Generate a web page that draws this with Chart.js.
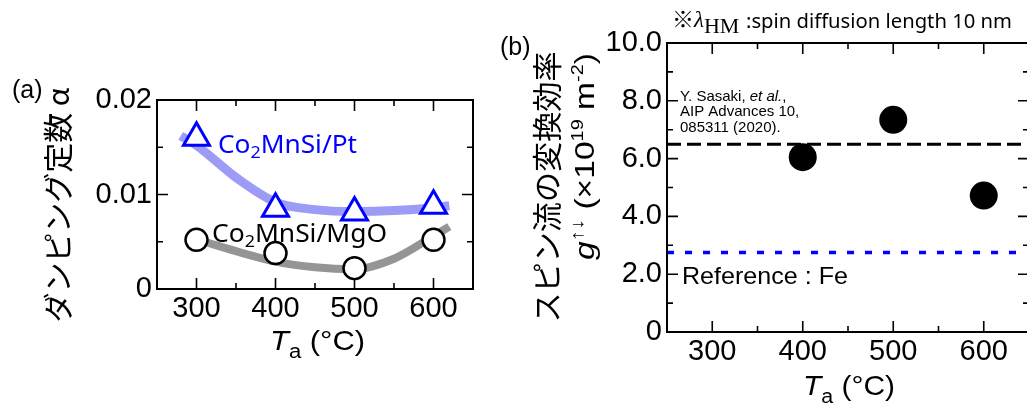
<!DOCTYPE html>
<html>
<head>
<meta charset="utf-8">
<script src="https://cdn.jsdelivr.net/npm/chart.js@4.4.0/dist/chart.umd.min.js"></script>
<style>
  html, body { margin: 0; padding: 0; background: #fff; }
  #wrap { position: relative; width: 1027px; height: 405px; overflow: hidden; }
  canvas { position: absolute; top: 0; }
  #chartA { left: 0; }
  #chartB { left: 495px; }
</style>
</head>
<body>
<div id="wrap">
  <canvas id="chartA" width="495" height="405"></canvas>
  <!-- wider than the window on purpose: the right frame sits at the page edge -->
  <canvas id="chartB" width="548" height="405"></canvas>
</div>
<script>
// ── data: panel (a) damping constant ───────────────────────────────
const tempA      = [300, 400, 500, 600];
const alphaPt    = [0.0160, 0.0085, 0.0081, 0.0088];
const alphaMgO   = [0.0052, 0.0038, 0.0022, 0.0052];
// guide curves
const ptCurveT   = [280, 300, 350, 400, 450, 500, 550, 600, 620];
const ptCurveA   = [0.0162, 0.0152, 0.0118, 0.0092, 0.0084, 0.0082, 0.0083, 0.0086, 0.0088];
const mgoCurveT  = [310, 350, 400, 450, 500, 550, 600, 620];
const mgoCurveA  = [0.0050, 0.0040, 0.0029, 0.0023, 0.0021, 0.0032, 0.0056, 0.0066];
const aXTicks    = [300, 400, 500, 600];
const aXMinor    = [350, 450, 550];
const aYTicks    = [0, 0.01, 0.02];
const aYMinor    = [0.005, 0.015];

// ── data: panel (b) spin mixing conductance ────────────────────────
const tempB      = [400, 500, 600];
const gMix       = [6.05, 7.34, 4.72];
const xSpan      = [250, 650];
const sasakiG    = 6.5;
const feG        = 2.75;
const bXTicks    = [300, 400, 500, 600];
const bXMinor    = [350, 450, 550];
const bYTicks    = [0, 2, 4, 6, 8, 10];
const bYMinor    = [1, 3, 5, 7, 9];

const SANS  = '"Liberation Sans", Arial, sans-serif';
const NOTO  = '"Noto Sans", sans-serif';
const CJK   = '"Noto Sans CJK JP", sans-serif';
const SERIF = '"Liberation Serif", serif';
const TICKFONT = { family: SANS, size: 29, lineHeight: 1 };

const pts = (xs, ys) => xs.map((x, i) => ({ x, y: ys[i] }));

// draw a run of differently styled text pieces, optionally squeezed to a width
function richText(ctx, runs, x, y, o = {}) {
  ctx.save();
  ctx.textBaseline = o.baseline || 'alphabetic';
  let total = 0;
  const widths = runs.map(r => { ctx.font = r.font; const w = ctx.measureText(r.text).width; total += w; return w; });
  const sx = o.width ? o.width / total : 1;
  ctx.translate(x, y);
  if (o.rotate) ctx.rotate(o.rotate);
  ctx.scale(sx, 1);
  let cx = o.align === 'center' ? -total / 2 : 0;
  runs.forEach((r, i) => {
    ctx.font = r.font;
    ctx.fillStyle = r.color || o.color || '#000';
    ctx.fillText(r.text, cx, r.dy || 0);
    cx += widths[i];
  });
  ctx.restore();
}

// frame with inward ticks on all four sides
function drawFrame(chart, t) {
  const { ctx, chartArea: a, scales: { x, y } } = chart;
  ctx.save();
  ctx.strokeStyle = '#000';
  ctx.lineWidth = 2;
  ctx.strokeRect(a.left, a.top, a.right - a.left, a.bottom - a.top);
  ctx.lineWidth = 1.6;
  ctx.beginPath();
  const xt = (v, len) => {
    const px = x.getPixelForValue(v);
    ctx.moveTo(px, a.bottom); ctx.lineTo(px, a.bottom - len);
    ctx.moveTo(px, a.top);    ctx.lineTo(px, a.top + len);
  };
  const yt = (v, len) => {
    const py = y.getPixelForValue(v);
    ctx.moveTo(a.left, py);  ctx.lineTo(a.left + len, py);
    ctx.moveTo(a.right, py); ctx.lineTo(a.right - len, py);
  };
  t.xMajor.forEach(v => xt(v, 11));
  t.xMinor.forEach(v => xt(v, 6));
  t.yMajor.forEach(v => yt(v, 11));
  t.yMinor.forEach(v => yt(v, 6));
  ctx.stroke();
  ctx.restore();
}

function axes(xTicks, yTicks, yFmt, yWidth, xHeight) {
  return {
    x: {
      type: 'linear', min: xSpan[0], max: xSpan[1],
      afterBuildTicks: s => { s.ticks = xTicks.map(v => ({ value: v })); },
      afterFit: s => { s.height = xHeight; },
      ticks: { font: TICKFONT, color: '#000', padding: 5, maxRotation: 0 },
      grid: { display: false, drawTicks: false },
      border: { display: false },
    },
    y: {
      type: 'linear', min: yTicks[0], max: yTicks[yTicks.length - 1],
      afterBuildTicks: s => { s.ticks = yTicks.map(v => ({ value: v })); },
      afterFit: s => { s.width = yWidth; },
      ticks: { font: TICKFONT, color: '#000', padding: 5, callback: yFmt },
      grid: { display: false, drawTicks: false },
      border: { display: false },
    },
  };
}

// ── (a) Damping constant vs annealing temperature ──────────────────
new Chart(document.getElementById('chartA'), {
  type: 'scatter',
  data: {
    datasets: [
      {
        label: 'Co2MnSi/Pt', data: pts(tempA, alphaPt), order: 0,
        pointStyle: 'triangle', pointRadius: 15, borderWidth: 3,
        borderColor: '#0000ff', backgroundColor: '#ffffff',
      },
      {
        label: 'Co2MnSi/MgO', data: pts(tempA, alphaMgO), order: 0,
        pointStyle: 'circle', pointRadius: 11, borderWidth: 2.5,
        borderColor: '#000000', backgroundColor: '#ffffff',
      },
      {
        label: 'Pt fit', data: pts(ptCurveT, ptCurveA), order: 1,
        showLine: true, pointRadius: 0, borderWidth: 9,
        borderColor: '#9c9cf7', cubicInterpolationMode: 'monotone',
      },
      {
        label: 'MgO fit', data: pts(mgoCurveT, mgoCurveA), order: 1,
        showLine: true, pointRadius: 0, borderWidth: 8,
        borderColor: '#959595', cubicInterpolationMode: 'monotone',
      },
    ],
  },
  options: {
    responsive: false, animation: false,
    layout: { padding: { top: 100, right: 22, left: 0, bottom: 0 } },
    plugins: { legend: { display: false }, tooltip: { enabled: false } },
    scales: axes(aXTicks, aYTicks, v => v === 0 ? '0' : v.toFixed(2), 157, 116),
  },
  plugins: [{
    id: 'panelA',
    afterDraw(chart) {
      const ctx = chart.ctx;
      drawFrame(chart, { xMajor: aXTicks, xMinor: aXMinor, yMajor: aYTicks, yMinor: aYMinor });
      richText(ctx, [{ text: '(a)', font: `25px ${SANS}` }], 12, 98);
      richText(ctx, [{ text: 'ダンピング定数 α', font: `30px ${CJK}` }], 57.5, 205,
        { rotate: -Math.PI / 2, align: 'center', baseline: 'middle', width: 235 });
      richText(ctx, [
        { text: 'Co', font: `25px ${NOTO}` },
        { text: '2', font: `17px ${NOTO}`, dy: 5 },
        { text: 'MnSi/Pt', font: `25px ${NOTO}` },
      ], 218, 153, { color: '#0000ff', width: 139 });
      richText(ctx, [
        { text: 'Co', font: `25px ${NOTO}` },
        { text: '2', font: `17px ${NOTO}`, dy: 5 },
        { text: 'MnSi/MgO', font: `25px ${NOTO}` },
      ], 212, 242, { width: 175 });
      richText(ctx, [
        { text: 'T', font: `italic 28px ${SANS}` },
        { text: 'a', font: `20px ${SANS}`, dy: 8 },
        { text: ' (°C)', font: `28px ${SANS}` },
      ], 270, 350, { width: 95 });
    },
  }],
});

// ── (b) Spin mixing conductance vs annealing temperature ───────────
new Chart(document.getElementById('chartB'), {
  type: 'scatter',
  data: {
    datasets: [
      {
        label: 'g', data: pts(tempB, gMix), order: 0,
        pointStyle: 'circle', pointRadius: 14, borderWidth: 0,
        backgroundColor: '#000000',
      },
      {
        label: 'Sasaki', data: pts(xSpan, [sasakiG, sasakiG]), order: 1,
        showLine: true, pointRadius: 0, borderWidth: 3,
        borderColor: '#000000', borderDash: [14, 6],
      },
      {
        label: 'Fe', data: pts(xSpan, [feG, feG]), order: 1,
        showLine: true, pointRadius: 0, borderWidth: 3.5,
        borderColor: '#0000ff', borderDash: [7, 11],
      },
    ],
  },
  options: {
    responsive: false, animation: false,
    layout: { padding: { top: 43, right: 0, left: 0, bottom: 0 } },
    plugins: { legend: { display: false }, tooltip: { enabled: false } },
    scales: axes(bXTicks, bYTicks, v => v === 0 ? '0' : v.toFixed(1), 172, 73),
  },
  plugins: [{
    id: 'panelB',
    afterDraw(chart) {
      const ctx = chart.ctx;
      const ox = 495;
      drawFrame(chart, { xMajor: bXTicks, xMinor: bXMinor, yMajor: bYTicks, yMinor: bYMinor });
      richText(ctx, [{ text: '(b)', font: `25px ${SANS}` }], 500 - ox, 55);
      // title
      richText(ctx, [{ text: '※', font: `22px ${CJK}` }], 672 - ox, 27);
      richText(ctx, [
        { text: 'λ', font: `italic 23px ${SERIF}` },
        { text: 'HM', font: `22px ${SERIF}`, dy: 6 },
      ], 694 - ox, 27);
      richText(ctx, [{ text: ':spin diffusion length 10 nm', font: `20px ${NOTO}` }], 746 - ox, 28, { width: 266 });
      // y title
      richText(ctx, [{ text: 'スピン流の変換効率', font: `30px ${CJK}` }], 546.7 - ox, 187,
        { rotate: -Math.PI / 2, align: 'center', baseline: 'middle', width: 271 });
      richText(ctx, [
        { text: 'g', font: `italic 27px ${SANS}` },
        { text: '↑↓', font: `18px ${SANS}`, dy: -11 },
        { text: ' (×10', font: `27px ${SANS}` },
        { text: '19', font: `16px ${SANS}`, dy: -11 },
        { text: ' m', font: `27px ${SANS}` },
        { text: '-2', font: `16px ${SANS}`, dy: -11 },
        { text: ')', font: `27px ${SANS}` },
      ], 594 - ox, 156.5, { rotate: -Math.PI / 2, align: 'center', width: 207 });
      // notes
      const note = `15px ${SANS}`;
      richText(ctx, [
        { text: 'Y. Sasaki, ', font: note },
        { text: 'et al.', font: `italic 15px ${SANS}` },
        { text: ',', font: note },
      ], 680 - ox, 100.5);
      richText(ctx, [{ text: 'AIP Advances 10,', font: note }], 680 - ox, 116);
      richText(ctx, [{ text: '085311 (2020).', font: note }], 680 - ox, 131.5);
      richText(ctx, [{ text: 'Reference : Fe', font: `24px ${SANS}` }], 682 - ox, 284, { width: 166 });
      // x title
      richText(ctx, [
        { text: 'T', font: `italic 28px ${SANS}` },
        { text: 'a', font: `20px ${SANS}`, dy: 8 },
        { text: ' (°C)', font: `28px ${SANS}` },
      ], 803 - ox, 395, { width: 92 });
    },
  }],
});
</script>
</body>
</html>
